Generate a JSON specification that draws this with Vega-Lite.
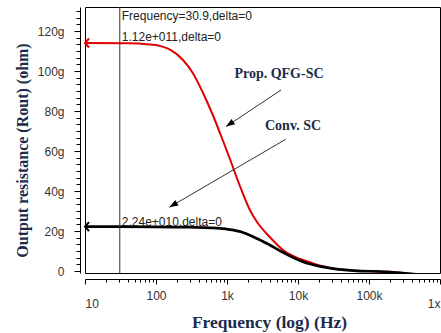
{
  "$schema": "https://vega.github.io/schema/vega-lite/v6.json",
  "width": 355,
  "height": 266,
  "autosize": {"type": "none"},
  "padding": {"left": 85, "top": 7, "right": 1, "bottom": 60},
  "background": "white",
  "config": {
    "view": {"stroke": "black", "strokeWidth": 1},
    "axis": {"grid": false}
  },
  "datasets": {
    "curves": [
      {"series": "Prop. QFG-SC", "freq": 10, "rout": 114},
      {"series": "Prop. QFG-SC", "freq": 40, "rout": 113.9},
      {"series": "Prop. QFG-SC", "freq": 80, "rout": 113.3},
      {"series": "Prop. QFG-SC", "freq": 120, "rout": 112.3},
      {"series": "Prop. QFG-SC", "freq": 160, "rout": 110.6},
      {"series": "Prop. QFG-SC", "freq": 240, "rout": 105.5},
      {"series": "Prop. QFG-SC", "freq": 330, "rout": 99},
      {"series": "Prop. QFG-SC", "freq": 460, "rout": 89},
      {"series": "Prop. QFG-SC", "freq": 640, "rout": 77.5},
      {"series": "Prop. QFG-SC", "freq": 880, "rout": 65},
      {"series": "Prop. QFG-SC", "freq": 1100, "rout": 56},
      {"series": "Prop. QFG-SC", "freq": 1500, "rout": 43},
      {"series": "Prop. QFG-SC", "freq": 2100, "rout": 30.5},
      {"series": "Prop. QFG-SC", "freq": 2650, "rout": 24.5},
      {"series": "Prop. QFG-SC", "freq": 3650, "rout": 18.5},
      {"series": "Prop. QFG-SC", "freq": 4000, "rout": 17},
      {"series": "Prop. QFG-SC", "freq": 6150, "rout": 10.5},
      {"series": "Prop. QFG-SC", "freq": 10700, "rout": 6},
      {"series": "Prop. QFG-SC", "freq": 16300, "rout": 3.8},
      {"series": "Prop. QFG-SC", "freq": 31000, "rout": 1.3},
      {"series": "Prop. QFG-SC", "freq": 60000, "rout": 0.3},
      {"series": "Prop. QFG-SC", "freq": 180000, "rout": -0.4},
      {"series": "Prop. QFG-SC", "freq": 1000000, "rout": -3},
      {"series": "Conv. SC", "freq": 10, "rout": 22.2},
      {"series": "Conv. SC", "freq": 100, "rout": 22.1},
      {"series": "Conv. SC", "freq": 300, "rout": 21.9},
      {"series": "Conv. SC", "freq": 600, "rout": 21.6},
      {"series": "Conv. SC", "freq": 800, "rout": 21.3},
      {"series": "Conv. SC", "freq": 1100, "rout": 20.7},
      {"series": "Conv. SC", "freq": 1600, "rout": 19.5},
      {"series": "Conv. SC", "freq": 2300, "rout": 17.3},
      {"series": "Conv. SC", "freq": 3000, "rout": 15.3},
      {"series": "Conv. SC", "freq": 3600, "rout": 13.9},
      {"series": "Conv. SC", "freq": 4000, "rout": 13},
      {"series": "Conv. SC", "freq": 6500, "rout": 8.8},
      {"series": "Conv. SC", "freq": 11700, "rout": 4.6},
      {"series": "Conv. SC", "freq": 20400, "rout": 2.3},
      {"series": "Conv. SC", "freq": 31000, "rout": 1.2},
      {"series": "Conv. SC", "freq": 60000, "rout": 0.2},
      {"series": "Conv. SC", "freq": 180000, "rout": -0.4},
      {"series": "Conv. SC", "freq": 1000000, "rout": -3}
    ],
    "starts": [
      {"series": "Prop. QFG-SC", "freq": 10, "rout": 114},
      {"series": "Conv. SC", "freq": 10, "rout": 22.2}
    ],
    "cursor": [{"freq": 30.9}],
    "notes": [
      {"label": "Frequency=30.9,delta=0", "freq": 30.9, "rout": 127.5},
      {"label": "1.12e+011,delta=0", "freq": 30.9, "rout": 117.2},
      {"label": "2.24e+010,delta=0", "freq": 30.9, "rout": 24.3}
    ],
    "callouts": [
      {"label": "Prop. QFG-SC", "freq": 5395, "rout": 98.5},
      {"label": "Conv. SC", "freq": 8510, "rout": 72.5}
    ],
    "arrows": [
      {"name": "prop", "freq1": 5768, "rout1": 90.5, "freq2": 968, "rout2": 72.2},
      {"name": "conv", "freq1": 6714, "rout1": 65.85, "freq2": 153.8, "rout2": 31.85}
    ]
  },
  "layer": [
    {
      "data": {"name": "curves"},
      "transform": [{"filter": "datum.series == 'Prop. QFG-SC'"}],
      "mark": {"type": "line", "color": "#e00000", "strokeWidth": 2, "interpolate": "monotone", "clip": true},
      "encoding": {
        "x": {
          "field": "freq", "type": "quantitative",
          "scale": {"type": "log", "domain": [10, 1000000], "nice": false},
          "axis": {
            "title": "Frequency (log) (Hz)",
            "offset": 6,
            "values": [10,20,30,40,50,60,70,80,90,100,200,300,400,500,600,700,800,900,1000,2000,3000,4000,5000,6000,7000,8000,9000,10000,20000,30000,40000,50000,60000,70000,80000,90000,100000,200000,300000,400000,500000,600000,700000,800000,900000,1000000],
            "tickCount": 100,
            "labelExpr": "datum.value == 10 ? '10' : datum.value == 100 ? '100' : datum.value == 1000 ? '1k' : datum.value == 10000 ? '10k' : datum.value == 100000 ? '100k' : datum.value == 1000000 ? '1x' : ''",
            "ticks": true,
            "domain": true,
            "zindex": 2,
            "domainWidth": 1,
            "domainOpacity": 1,
            "tickWidth": 1,
            "tickOpacity": 1,
            "tickSize": {"condition": {"test": "indexof([10,100,1000,10000,100000,1000000], datum.value) >= 0", "value": 5}, "value": 3},
            "labelPadding": {"condition": {"test": "datum.value == 10 || datum.value == 1000000", "value": 14}, "value": 6},
            "labelFlush": true,
            "labelOverlap": false,
            "labelFont": "Liberation Sans",
            "labelFontSize": 12,
            "labelColor": "#333333",
            "domainColor": "black",
            "tickColor": "black",
            "titleFont": "Liberation Serif",
            "titleFontSize": 17.5,
            "titleFontWeight": "bold",
            "titleColor": "#1c2b4b",
            "titleX": 184,
            "titleY": 48,
            "titleBaseline": "alphabetic",
            "titleAlign": "center"
          }
        },
        "y": {
          "field": "rout", "type": "quantitative",
          "scale": {"domain": [-1, 132], "nice": false, "zero": false},
          "axis": {
            "title": "Output resistance (Rout) (ohm)",
            "offset": 5,
            "values": [0,3.3333,6.6667,10,13.3333,16.6667,20,23.3333,26.6667,30,33.3333,36.6667,40,43.3333,46.6667,50,53.3333,56.6667,60,63.3333,66.6667,70,73.3333,76.6667,80,83.3333,86.6667,90,93.3333,96.6667,100,103.3333,106.6667,110,113.3333,116.6667,120,123.3333,126.6667,130],
            "tickCount": 100,
            "labelExpr": "datum.value % 20 == 0 ? (datum.value == 0 ? '0' : datum.value + 'g') : ''",
            "ticks": true,
            "tickSize": {"condition": {"test": "datum.value % 20 == 0", "value": 6}, "value": 4},
            "labelPadding": 10,
            "labelOverlap": false,
            "labelFont": "Liberation Sans",
            "labelFontSize": 12,
            "labelColor": "#333333",
            "domainColor": "black",
            "tickColor": "black",
            "titleFont": "Liberation Serif",
            "titleFontSize": 16,
            "titleFontWeight": "bold",
            "titleColor": "#1c2b4b",
            "titleAngle": -90,
            "titleX": -58,
            "titleY": 143,
            "titleBaseline": "middle",
            "titleAlign": "center"
          }
        }
      }
    },
    {
      "data": {"name": "curves"},
      "transform": [{"filter": "datum.series == 'Conv. SC'"}],
      "mark": {"type": "line", "color": "black", "strokeWidth": 2.7, "interpolate": "monotone", "clip": true},
      "encoding": {
        "x": {"field": "freq", "type": "quantitative"},
        "y": {"field": "rout", "type": "quantitative"}
      }
    },
    {
      "data": {"name": "starts"},
      "mark": {"type": "point", "shape": "M1.8,-2L0,0L1.8,2", "size": 20, "filled": false, "strokeWidth": 2, "opacity": 1},
      "encoding": {
        "x": {"field": "freq", "type": "quantitative"},
        "y": {"field": "rout", "type": "quantitative"},
        "stroke": {"field": "series", "type": "nominal", "scale": {"domain": ["Prop. QFG-SC", "Conv. SC"], "range": ["#e00000", "black"]}, "legend": null}
      }
    },
    {
      "data": {"name": "cursor"},
      "mark": {"type": "rule", "color": "#333333", "strokeWidth": 1},
      "encoding": {
        "x": {"field": "freq", "type": "quantitative"}
      }
    },
    {
      "data": {"name": "notes"},
      "mark": {"type": "text", "align": "left", "baseline": "middle", "dx": 2, "font": "Liberation Sans", "fontSize": 12, "color": "#222222"},
      "encoding": {
        "x": {"field": "freq", "type": "quantitative"},
        "y": {"field": "rout", "type": "quantitative"},
        "text": {"field": "label"}
      }
    },
    {
      "data": {"name": "arrows"},
      "mark": {"type": "rule", "color": "#333333", "strokeWidth": 1},
      "encoding": {
        "x": {"field": "freq1", "type": "quantitative"},
        "y": {"field": "rout1", "type": "quantitative"},
        "x2": {"field": "freq2"},
        "y2": {"field": "rout2"}
      }
    },
    {
      "data": {"name": "arrows"},
      "transform": [{"filter": "datum.name == 'prop'"}],
      "mark": {"type": "point", "shape": "M0,0L-0.8,2.2L0.8,2.2Z", "size": 64, "filled": true, "color": "black", "opacity": 1, "angle": 236},
      "encoding": {
        "x": {"field": "freq2", "type": "quantitative"},
        "y": {"field": "rout2", "type": "quantitative"}
      }
    },
    {
      "data": {"name": "arrows"},
      "transform": [{"filter": "datum.name == 'conv'"}],
      "mark": {"type": "point", "shape": "M0,0L-0.8,2.2L0.8,2.2Z", "size": 64, "filled": true, "color": "black", "opacity": 1, "angle": 239.7},
      "encoding": {
        "x": {"field": "freq2", "type": "quantitative"},
        "y": {"field": "rout2", "type": "quantitative"}
      }
    },
    {
      "data": {"name": "callouts"},
      "mark": {"type": "text", "align": "center", "baseline": "middle", "font": "Liberation Serif", "fontSize": 14, "fontWeight": "bold", "color": "#1c2b4b"},
      "encoding": {
        "x": {"field": "freq", "type": "quantitative"},
        "y": {"field": "rout", "type": "quantitative"},
        "text": {"field": "label"}
      }
    }
  ]
}
